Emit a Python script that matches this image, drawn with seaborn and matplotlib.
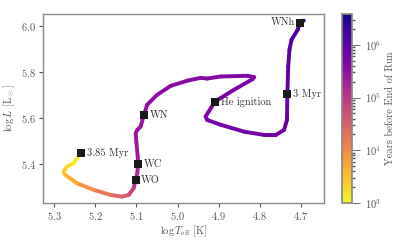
import matplotlib
matplotlib.use("Agg")
import matplotlib.pyplot as plt
import numpy as np
import seaborn as sns
from matplotlib.collections import LineCollection
from matplotlib.colors import LogNorm
from matplotlib.cm import ScalarMappable

# evolutionary track: log Teff, log L, years before end of run
track_logT = [4.693, 4.702, 4.708, 4.723, 4.728, 4.731, 4.733, 4.734, 4.741, 4.761,
              4.790, 4.838, 4.895, 4.928, 4.932, 4.909, 4.863, 4.818, 4.814, 4.830,
              4.895, 4.928, 4.944, 4.976, 5.017, 5.050, 5.074, 5.082, 5.090, 5.098,
              5.102, 5.100, 5.097, 5.096, 5.098, 5.102, 5.107, 5.119, 5.135, 5.163,
              5.204, 5.245, 5.273, 5.277, 5.269, 5.253, 5.235]
track_logL = [6.023, 6.014, 5.983, 5.939, 5.896, 5.823, 5.703, 5.591, 5.548, 5.526,
              5.526, 5.540, 5.570, 5.591, 5.606, 5.671, 5.722, 5.768, 5.777, 5.783,
              5.780, 5.771, 5.774, 5.762, 5.739, 5.700, 5.657, 5.613, 5.562, 5.548,
              5.533, 5.490, 5.432, 5.399, 5.360, 5.330, 5.294, 5.265, 5.258, 5.265,
              5.287, 5.316, 5.352, 5.367, 5.388, 5.403, 5.447]
track_years = [1.5e6, 1.45e6, 1.35e6, 1.25e6, 1.15e6, 1.0e6, 8.5e5, 7.5e5, 7.0e5, 6.6e5,
               6.3e5, 6.0e5, 5.7e5, 5.5e5, 5.3e5, 5.0e5, 4.8e5, 4.6e5, 4.5e5, 4.4e5,
               4.2e5, 4.0e5, 3.9e5, 3.7e5, 3.5e5, 3.3e5, 3.1e5, 2.9e5, 2.7e5, 2.6e5,
               2.5e5, 2.35e5, 2.2e5, 2.0e5, 1.7e5, 1.4e5, 9e4, 5e4, 3.5e4, 2.2e4,
               1.2e4, 6e3, 3.5e3, 3e3, 2e3, 1.5e3, 1e3]

# labelled phases
mark_names = ["WNh", "3 Myr", "He ignition", "WN", "WC", "WO", "3.85 Myr"]
mark_logT = [4.702, 4.733, 4.909, 5.082, 5.096, 5.102, 5.235]
mark_logL = [6.014, 5.703, 5.671, 5.613, 5.399, 5.330, 5.447]

sns.set_theme(style="ticks")
plt.rcParams['font.family'] = ['cmr10', 'DejaVu Serif']
plt.rcParams['mathtext.fontset'] = 'cm'
plt.rcParams['axes.formatter.use_mathtext'] = True
plt.rcParams['axes.unicode_minus'] = False

grey = "#555555"
fig = plt.figure(figsize=(4.07, 2.44), dpi=100)
ax = fig.add_axes([0.106, 0.168, 0.69, 0.775])
cax = fig.add_axes([0.840, 0.168, 0.025, 0.775])

norm = LogNorm(vmin=1e3, vmax=3.85e6)
cmap = plt.get_cmap("plasma_r")

pts = np.column_stack([track_logT, track_logL])
segs = np.stack([pts[:-1], pts[1:]], axis=1)
yrs = np.array(track_years)
seg_years = np.sqrt(yrs[:-1] * yrs[1:])
lc = LineCollection(segs, cmap=cmap, norm=norm, linewidths=2.8, capstyle="round",
                    joinstyle="round")
lc.set_array(seg_years)
ax.add_collection(lc)

sns.scatterplot(x=mark_logT, y=mark_logL, marker="s", color="k", s=30,
                edgecolor="k", linewidth=0, ax=ax, zorder=5)

for name, t, l in zip(mark_names, mark_logT, mark_logL):
    if name == "WNh":
        ax.annotate(name, (t, l), xytext=(-4, 0), textcoords="offset points",
                    ha="right", va="center", fontsize=7.5, color="#333333")
    else:
        ax.annotate(name, (t, l), xytext=(4, 0), textcoords="offset points",
                    ha="left", va="center", fontsize=7.5, color="#333333")

ax.set_xlim(5.327, 4.644)
ax.set_ylim(5.23, 6.052)
ax.set_xticks([5.3, 5.2, 5.1, 5.0, 4.9, 4.8, 4.7])
ax.set_yticks([5.4, 5.6, 5.8, 6.0])
ax.set_xlabel(r"$\log T_{\rm eff}$ [K]", fontsize=7.5, color=grey, labelpad=1)
ax.set_ylabel(r"$\log L$ [L$_\odot$]", fontsize=7.5, color=grey, labelpad=3)
ax.tick_params(labelsize=7.5, labelcolor=grey, color=grey, length=3, width=0.8, pad=2)
for sp in ax.spines.values():
    sp.set_color("#888888")
    sp.set_linewidth(1.0)

cb = fig.colorbar(ScalarMappable(norm=norm, cmap=cmap), cax=cax)
cb.set_label("Years before End of Run", fontsize=7.5, color=grey, labelpad=3)
cb.ax.tick_params(labelsize=7.5, labelcolor=grey, color=grey, width=0.6)
cb.ax.tick_params(which="minor", length=2, color=grey)
cb.outline.set_edgecolor("#888888")

fig.savefig("out.png", dpi=100)
